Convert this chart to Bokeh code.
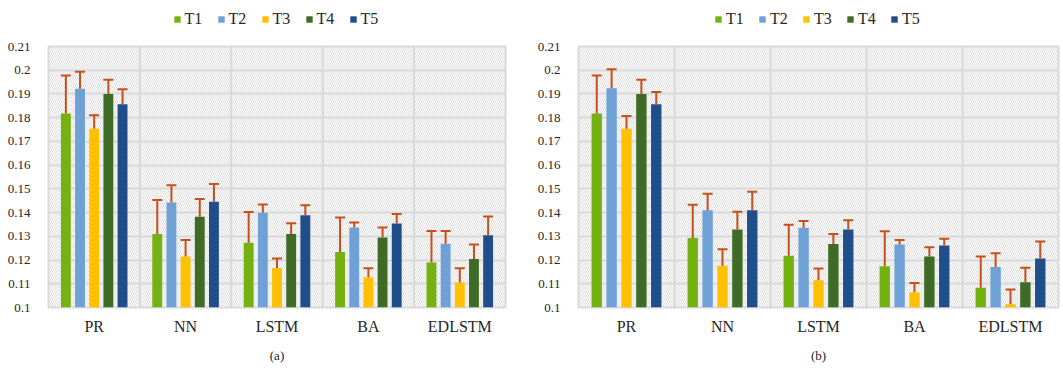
from bokeh.plotting import figure
from bokeh.layouts import row, column
from bokeh.models import (ColumnDataSource, FixedTicker, NumeralTickFormatter, Span,
                          BoxAnnotation, Whisker, TeeHead, Title, FactorRange,
                          Legend, LegendItem)
from bokeh.transform import dodge
from bokeh.embed import file_html
from bokeh.resources import INLINE

categories = ["PR", "NN", "LSTM", "BA", "EDLSTM"]
series = ["T1", "T2", "T3", "T4", "T5"]
colors = ["#74B111", "#6FA1D6", "#FFC000", "#3E6B25", "#1F4E8A"]
err_color = "#C5501A"
y_ticks = [0.1, 0.11, 0.12, 0.13, 0.14, 0.15, 0.16, 0.17, 0.18, 0.19, 0.2, 0.21]

# Panel (a): bar values per series across categories, and error-bar tops
a_T1 = [0.1818, 0.1310, 0.1273, 0.1234, 0.1190]
a_T2 = [0.1922, 0.1443, 0.1399, 0.1337, 0.1269]
a_T3 = [0.1753, 0.1215, 0.1166, 0.1127, 0.1105]
a_T4 = [0.1900, 0.1382, 0.1310, 0.1295, 0.1204]
a_T5 = [0.1857, 0.1446, 0.1389, 0.1354, 0.1305]
a_T1_err = [0.1978, 0.1453, 0.1403, 0.1379, 0.1322]
a_T2_err = [0.1994, 0.1515, 0.1434, 0.1358, 0.1322]
a_T3_err = [0.1810, 0.1285, 0.1207, 0.1165, 0.1165]
a_T4_err = [0.1960, 0.1457, 0.1355, 0.1337, 0.1266]
a_T5_err = [0.1920, 0.1520, 0.1431, 0.1394, 0.1383]

# Panel (b)
b_T1 = [0.1818, 0.1293, 0.1218, 0.1174, 0.1083]
b_T2 = [0.1924, 0.1410, 0.1336, 0.1265, 0.1171]
b_T3 = [0.1753, 0.1176, 0.1115, 0.1064, 0.1014]
b_T4 = [0.1900, 0.1329, 0.1268, 0.1215, 0.1106]
b_T5 = [0.1857, 0.1410, 0.1329, 0.1261, 0.1206]
b_T1_err = [0.1978, 0.1433, 0.1349, 0.1321, 0.1215]
b_T2_err = [0.2004, 0.1479, 0.1365, 0.1285, 0.1229]
b_T3_err = [0.1807, 0.1246, 0.1164, 0.1103, 0.1076]
b_T4_err = [0.1960, 0.1404, 0.1310, 0.1254, 0.1168]
b_T5_err = [0.1908, 0.1488, 0.1368, 0.1290, 0.1278]

panel_a = ([a_T1, a_T2, a_T3, a_T4, a_T5], [a_T1_err, a_T2_err, a_T3_err, a_T4_err, a_T5_err])
panel_b = ([b_T1, b_T2, b_T3, b_T4, b_T5], [b_T1_err, b_T2_err, b_T3_err, b_T4_err, b_T5_err])

FONT = "Liberation Serif"
TXT = "#262626"
GRID = "#D9D9D9"
LEG_H = 38
H = 332
TOP = 8
BOTTOM = 63


def make_legend_fig(vals, width, left, right):
    # a strip above the chart that only carries the legend; its (hidden) bars
    # reuse the panel's data so the legend swatches get the series colours
    lf = figure(x_range=FactorRange(*categories), width=width, height=LEG_H,
                output_backend="svg", toolbar_location=None,
                x_axis_type=None, y_axis_type=None,
                min_border_left=left, min_border_right=right,
                min_border_top=0, min_border_bottom=0)
    lf.outline_line_color = None
    lf.xgrid.visible = False
    lf.ygrid.visible = False
    items = []
    for i, (s, c) in enumerate(zip(series, colors)):
        src = ColumnDataSource(dict(cat=categories, val=vals[i]))
        r = lf.vbar(x="cat", top="val", width=0.1, source=src,
                    fill_color=c, line_color=None)
        r.visible = False
        items.append(LegendItem(label=s, renderers=[r]))
    lg = Legend(items=items, orientation="horizontal", location="center",
                border_line_color=None, background_fill_alpha=0,
                inactive_fill_alpha=0,
                glyph_width=8, glyph_height=8,
                label_text_font=FONT, label_text_font_size="16px",
                label_text_color=TXT, label_standoff=4, spacing=12,
                padding=2, margin=0)
    lf.add_layout(lg, "center")
    return lf


def make_panel(vals, errs, caption, width, left, right):
    y0, y1 = y_ticks[0], y_ticks[-1]
    p = figure(x_range=FactorRange(*categories), y_range=(y0, y1),
               width=width, height=H, output_backend="svg", toolbar_location=None,
               min_border_left=left, min_border_right=right,
               min_border_top=TOP, min_border_bottom=BOTTOM)
    p.outline_line_color = GRID
    p.outline_line_width = 2

    # hatched plot-area background
    p.add_layout(BoxAnnotation(fill_alpha=0, line_alpha=0, hatch_pattern="\\",
                               hatch_color="#DEDEDE", hatch_scale=4, hatch_weight=1,
                               level="image"))

    p.xgrid.visible = False
    p.ygrid.ticker = FixedTicker(ticks=y_ticks)
    p.ygrid.grid_line_color = GRID
    p.ygrid.grid_line_width = 2
    for k in range(1, len(categories)):
        p.add_layout(Span(location=k, dimension="height", line_color=GRID,
                          line_width=2, level="underlay"))

    n = len(series)
    step = 0.155
    bw = 0.108
    for i, c in enumerate(colors):
        off = (i - (n - 1) / 2) * step
        src = ColumnDataSource(dict(cat=categories, val=vals[i], err=errs[i]))
        xs = dodge("cat", off, range=p.x_range)
        p.vbar(x=xs, top="val", bottom=y0, width=bw, source=src,
               fill_color=c, line_color=None)
        p.add_layout(Whisker(source=src, base=xs, upper="err", lower="val",
                             dimension="height", line_color=err_color, line_width=2,
                             upper_head=TeeHead(size=10, line_color=err_color, line_width=2),
                             lower_head=None, level="annotation"))

    p.yaxis.ticker = FixedTicker(ticks=y_ticks)
    p.yaxis.formatter = NumeralTickFormatter(format="0.[00]")
    p.yaxis.axis_line_color = None
    p.yaxis.major_tick_line_color = None
    p.yaxis.minor_tick_line_color = None
    p.yaxis.major_label_text_font = FONT
    p.yaxis.major_label_text_font_size = "13px"
    p.yaxis.major_label_text_color = TXT
    p.yaxis.major_label_standoff = 12

    p.xaxis.axis_line_color = None
    p.xaxis.major_tick_line_color = None
    p.xaxis.major_label_text_font = FONT
    p.xaxis.major_label_text_font_size = "16px"
    p.xaxis.major_label_text_color = TXT
    p.xaxis.major_label_standoff = 4

    p.add_layout(Title(text=caption, align="center", text_font=FONT,
                       text_font_size="13px", text_font_style="normal",
                       text_color=TXT, standoff=16), "below")
    return p


col_a = column(make_legend_fig(panel_a[0], 530, 48, 25),
               make_panel(panel_a[0], panel_a[1], "(a)", 530, 48, 25))
col_b = column(make_legend_fig(panel_b[0], 533, 48, 5),
               make_panel(panel_b[0], panel_b[1], "(b)", 533, 48, 5))
layout = row(col_a, col_b)

open("out.html", "w").write(file_html(layout, INLINE))
